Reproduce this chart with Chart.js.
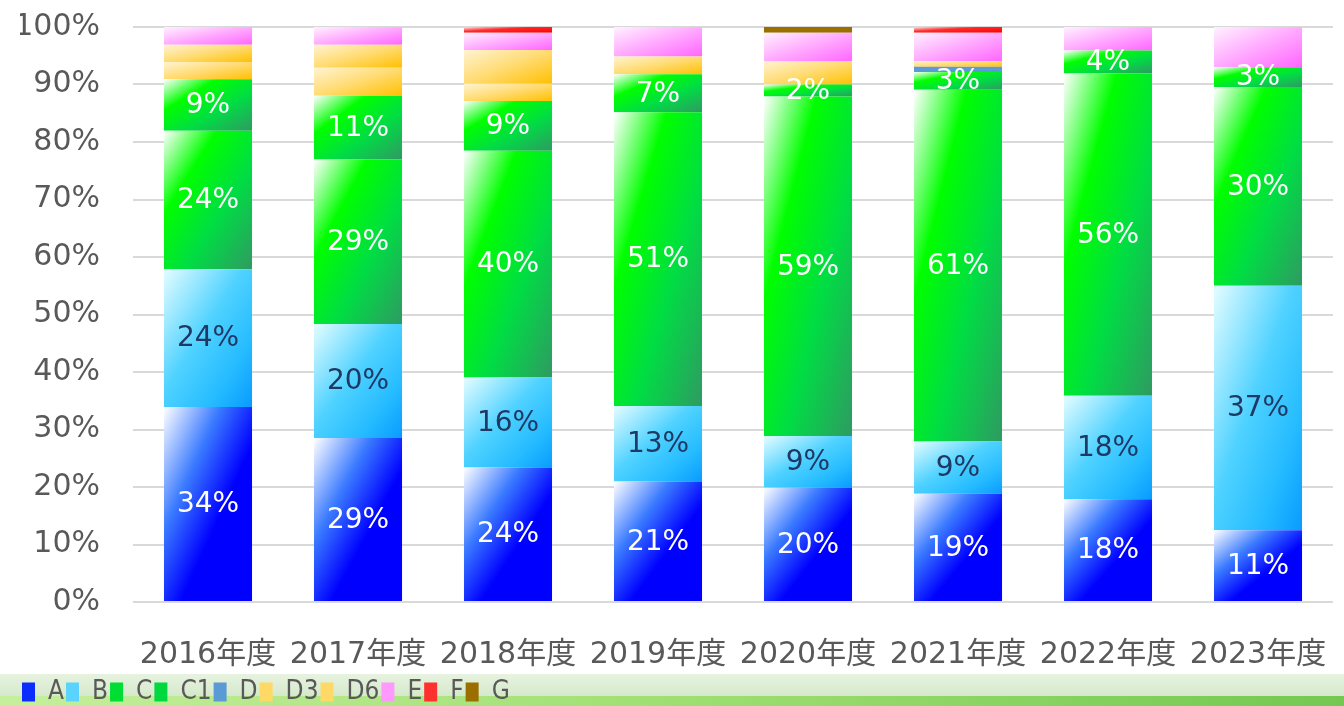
<!DOCTYPE html>
<html lang="ja">
<head>
<meta charset="utf-8">
<title>年度別構成比</title>
<script src="https://cdn.jsdelivr.net/npm/chart.js@4.4.1/dist/chart.umd.min.js"></script>
<style>
  html, body { margin: 0; padding: 0; background: #ffffff; overflow: hidden; }
  canvas { display: block; }
</style>
</head>
<body>
<canvas id="chart" width="1344" height="706"></canvas>
<script>
// ---------------------------------------------------------------------------
// Data (percent per year, as read from the labels / segment heights)
// ---------------------------------------------------------------------------
const years = ['2016年度', '2017年度', '2018年度', '2019年度', '2020年度', '2021年度', '2022年度', '2023年度'];

const seriesA  = [34.0, 28.6, 23.5, 20.9, 19.9, 18.8, 17.9, 10.9];
const seriesB  = [24.0, 19.9, 15.7, 13.1,  9.0,  9.1, 18.0, 37.1];
const seriesC  = [24.1, 28.7, 39.6, 51.0, 59.1, 61.1, 56.1, 30.2];
const seriesC1 = [ 9.0, 11.1,  8.7,  6.6,  2.1,  3.1,  4.0,  3.0];
const seriesD  = [ 0,    0,    0,    0,    0,    0.9,  0,    0  ];
const seriesD3 = [ 3.0,  4.9,  3.0,  3.1,  4.0,  1.0,  0,    0  ];
const seriesD6 = [ 3.0,  4.0,  5.9,  0,    0,    0,    0,    0  ];
const seriesE  = [ 3.1,  3.1,  3.0,  5.1,  5.0,  4.9,  4.1,  6.1];
const seriesF  = [ 0,    0,    1.0,  0,    0,    1.0,  0,    0  ];
const seriesG  = [ 0,    0,    0,    0,    1.0,  0,    0,    0  ];

const yTicks = [0, 10, 20, 30, 40, 50, 60, 70, 80, 90, 100];

// ---------------------------------------------------------------------------
// Styles
// ---------------------------------------------------------------------------
const FONT = '"DejaVu Sans", "Noto Sans CJK JP", sans-serif';
const LEGEND_FONT = '"DejaVu Sans Condensed", "Liberation Sans Narrow", "DejaVu Sans", "Noto Sans CJK JP", sans-serif';
const CLEAR = 'rgba(0,0,0,0)';

const GREEN_STOPS = [[0, '#ffffff'], [0.3, '#00ff00'], [0.62, '#00dd44'], [1, '#2f9a62']];
const YELLOW_STOPS = [[0, '#fff4d2'], [0.5, '#ffdb72'], [1, '#ffc000']];

const series = [
    { name: 'A',  values: seriesA,  legend: '#0a2cff', label: '#ffffff',
      stops: [[0, '#ffffff'], [0.32, '#3a7aff'], [0.6, '#0000ff'], [1, '#0000ff']] },
    { name: 'B',  values: seriesB,  legend: '#5ad4ff', label: '#203864',
      stops: [[0, '#e4fdff'], [0.45, '#4fd2ff'], [0.75, '#26bcff'], [1, '#0a9bff']] },
    { name: 'C',  values: seriesC,  legend: '#00dd33', label: '#ffffff', stops: GREEN_STOPS },
    { name: 'C1', values: seriesC1, legend: '#00d840', label: '#ffffff', stops: GREEN_STOPS },
    { name: 'D',  values: seriesD,  legend: '#5b9bd5', stops: null },
    { name: 'D3', values: seriesD3, legend: '#ffd966', stops: YELLOW_STOPS },
    { name: 'D6', values: seriesD6, legend: '#ffd966', stops: YELLOW_STOPS },
    { name: 'E',  values: seriesE,  legend: '#ff99ff',
      stops: [[0, '#fff2ff'], [0.5, '#ffaaff'], [1, '#ff66ff']] },
    { name: 'F',  values: seriesF,  legend: '#ff3030',
      stops: [[0, '#ffe4e4'], [0.4, '#ff2a2a'], [1, '#ff0000']] },
    { name: 'G',  values: seriesG,  legend: '#9a6f00', stops: null },
];

// 100% stacking: each year is scaled by its own total
const totals = years.map((_, i) => series.reduce((s, d) => s + d.values[i], 0));

// ---------------------------------------------------------------------------
// Plugins
// ---------------------------------------------------------------------------

// page background with the green band at the bottom
const backdrop = {
    id: 'backdrop',
    beforeDraw(chart) {
        const { ctx, width, height } = chart;
        ctx.save();
        ctx.fillStyle = '#ffffff';
        ctx.fillRect(0, 0, width, height);
        let g = ctx.createLinearGradient(0, 674, 0, 696);
        g.addColorStop(0, '#e7f3e0');
        g.addColorStop(1, '#d5e9cb');
        ctx.fillStyle = g;
        ctx.fillRect(0, 674, width, 22);
        g = ctx.createLinearGradient(0, 0, width, 0);
        g.addColorStop(0, '#c6ef9c');
        g.addColorStop(0.5, '#9fdf72');
        g.addColorStop(1, '#74c852');
        ctx.fillStyle = g;
        ctx.fillRect(0, 696, width, height - 696);
        ctx.restore();
    },
};

// diagonal gradient (top-left -> bottom-right) on every bar segment
const gradientFill = {
    id: 'gradientFill',
    beforeDatasetsDraw(chart) {
        const ctx = chart.ctx;
        chart.data.datasets.forEach((ds, di) => {
            if (!ds.stops) return;
            chart.getDatasetMeta(di).data.forEach((el) => {
                const l = el.x - el.width / 2;
                const t = Math.min(el.y, el.base);
                const w = el.width;
                const h = Math.abs(el.base - el.y);
                if (h <= 0 || w <= 0) return;
                const k = (2 * w * h) / (w * w + h * h);
                const g = ctx.createLinearGradient(l, t, l + h * k, t + w * k);
                ds.stops.forEach(([o, c]) => g.addColorStop(o, c));
                el.options = Object.assign({}, el.options, { backgroundColor: g });
            });
        });
    },
};

// percentage labels in the middle of the segments
const segmentLabels = {
    id: 'segmentLabels',
    afterDatasetsDraw(chart) {
        const ctx = chart.ctx;
        ctx.save();
        ctx.font = '28px ' + FONT;
        ctx.textAlign = 'center';
        ctx.textBaseline = 'middle';
        chart.data.datasets.forEach((ds, di) => {
            if (!ds.labelColor) return;
            ctx.fillStyle = ds.labelColor;
            chart.getDatasetMeta(di).data.forEach((el, i) => {
                const v = ds.rawValues[i];
                if (!v) return;
                ctx.fillText(Math.round(v) + '%', el.x, (el.y + el.base) / 2 + 1);
            });
        });
        ctx.restore();
    },
};

// ---------------------------------------------------------------------------
// Chart
// ---------------------------------------------------------------------------
Chart.defaults.font.family = FONT;
Chart.defaults.color = '#595959';

new Chart(document.getElementById('chart'), {
    type: 'bar',
    data: {
        labels: years,
        datasets: series.map((s) => ({
            label: s.name,
            data: s.values.map((v, i) => (v / totals[i]) * 100),
            rawValues: s.values,
            stops: s.stops,
            labelColor: s.label || null,
            backgroundColor: s.legend,
            borderWidth: 0,
            barPercentage: 0.587,
            categoryPercentage: 1,
        })),
    },
    options: {
        responsive: false,
        animation: false,
        devicePixelRatio: 1,
        layout: { padding: { top: 27, left: 20, right: 11, bottom: -9 } },
        scales: {
            x: {
                stacked: true,
                grid: { color: CLEAR, tickColor: CLEAR, drawOnChartArea: false, drawTicks: true, tickLength: 35 },
                border: { display: false },
                ticks: { padding: 0, color: '#595959', font: { size: 30 }, maxRotation: 0, autoSkip: false },
                afterFit: (s) => { s.height = 75; },
            },
            y: {
                stacked: true,
                min: 0,
                max: 100,
                afterBuildTicks: (s) => { s.ticks = yTicks.map((v) => ({ value: v })); },
                grid: { color: '#d9d9d9', lineWidth: 2, tickColor: CLEAR, drawTicks: true, tickLength: 33 },
                border: { display: false },
                ticks: { padding: 0, color: '#595959', font: { size: 30 }, callback: (v) => v + '%' },
                afterFit: (s) => { s.width = 113; },
            },
        },
        plugins: {
            tooltip: { enabled: false },
            legend: {
                position: 'bottom',
                align: 'start',
                labels: {
                    boxWidth: 13,
                    boxHeight: 19,
                    padding: 2,
                    color: '#595959',
                    font: { size: 26, family: LEGEND_FONT },
                },
            },
        },
    },
    plugins: [backdrop, gradientFill, segmentLabels],
});
</script>
</body>
</html>
